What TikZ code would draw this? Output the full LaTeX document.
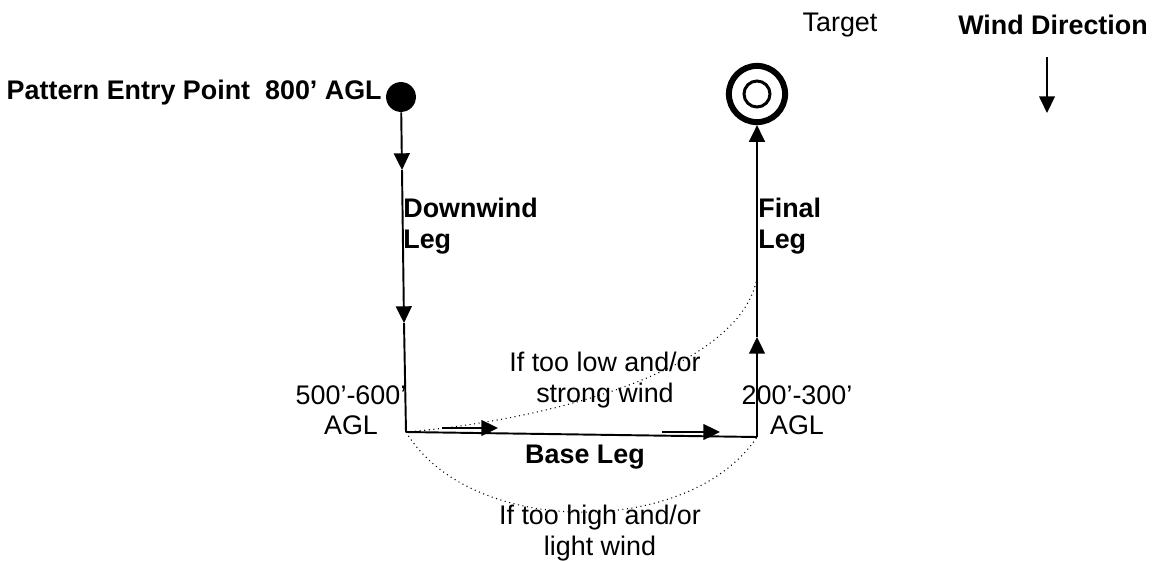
\documentclass[tikz,border=0pt]{standalone}
\usepackage{fontspec}
\setmainfont{Liberation Sans}
\usetikzlibrary{arrows.meta}

\begin{document}
\begin{tikzpicture}[x=0.02cm,y=-0.02cm,
    leg/.style={line width=1.1pt},
    tip/.style={-{Triangle[length=9.5pt,width=9pt]}},
    option/.style={dotted,line width=0.6pt},
    lbl/.style={font=\fontsize{15.3}{17.3}\selectfont,inner sep=0pt,align=center},
    blbl/.style={lbl,font=\fontsize{15.3}{17.3}\selectfont\bfseries}]
            \useasboundingbox (0,0) rectangle (1152,561);
            % points of the pattern
            \node[circle,fill,minimum size=17pt,inner sep=0pt] (entry) at (401,97) {};
            \node[circle,draw,line width=3.4pt,minimum size=32pt,inner sep=0pt] (target) at (757,94) {};
            \draw[line width=1.7pt] (target.center) circle[radius=13];
            \coordinate (dwtip1) at (402,170);
            \coordinate (dwtip2) at (404,323);
            \coordinate (turn1) at (406,432);
            \coordinate (turn2) at (757,437);
            \coordinate (fntip) at (757,337);
            \coordinate (fnjoin) at (757,278);
            % legs
            \draw[leg,tip] (entry) -- (dwtip1);
            \draw[leg,tip] (dwtip1) -- (dwtip2);
            \draw[leg] (dwtip2) -- (turn1);
            \draw[leg] (turn1) -- (turn2);
            \draw[leg,tip] (turn2) -- (fntip);
            \draw[leg,tip] (fntip) -- (target);
            \coordinate (bs1) at (442,428);
            \coordinate (be1) at (498,428);
            \coordinate (bs2) at (662,432);
            \coordinate (be2) at (720,432);
            \draw[leg,tip] (bs1) -- (be1);
            \draw[leg,tip] (bs2) -- (be2);
            % alternatives
            \draw[option] (turn1) .. controls (550,420) and (740,370) .. (fnjoin);
            \draw[option] (turn1) .. controls (470,538) and (690,538) .. (turn2);
            % wind
            \coordinate (wtop) at (1047,57);
            \coordinate (wend) at (1047,113);
            \draw[line width=0.8pt,tip] (wtop) -- (wend);
            % labels
            \node[blbl,anchor=east] (entrylbl) at (382,93) {Pattern Entry Point\ \ 800’ AGL};
            \node[blbl,align=left,anchor=west] (dwlbl) at (403,226) {Downwind\\Leg};
            \node[blbl,align=left,anchor=west] (fnlbl) at (758,226) {Final\\Leg};
            \node[blbl] (baselbl) at (585,457) {Base Leg};
            \node[lbl] (lowlbl) at (605,380) {If too low and/or\\strong wind};
            \node[lbl] (highlbl) at (600,533) {If too high and/or\\light wind};
            \node[lbl] (alt1) at (351,410) {500’-600’\\AGL};
            \node[lbl] (alt2) at (797,410) {200’-300’\\AGL};
            \node[lbl] (targetlbl) at (840,25) {Target};
            \node[blbl] (windlbl) at (1053,25) {Wind Direction};
        \end{tikzpicture}
\end{document}
